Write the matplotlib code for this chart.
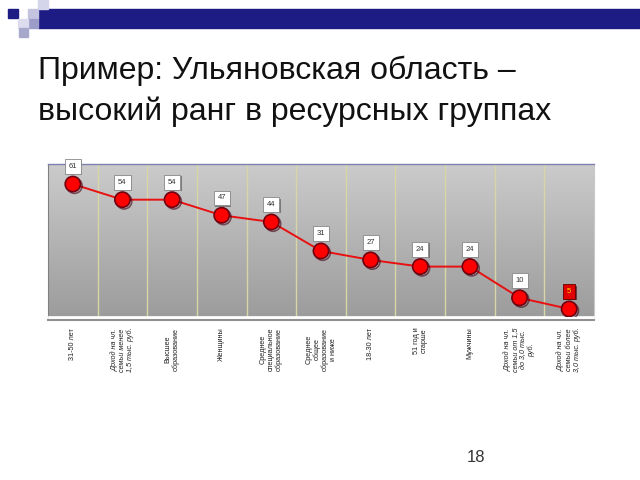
import matplotlib
matplotlib.use("Agg")
import matplotlib.pyplot as plt
import matplotlib.patheffects as pe
from matplotlib.patches import Rectangle
import numpy as np

plt.rcParams['font.family'] = ['Liberation Sans', 'DejaVu Sans']

categories = [
    "31-50 лет",
    "Доход на чл.\nсемьи менее\n1,5 тыс. руб.",
    "Высшее\nобразование",
    "Женщины",
    "Среднее\nспециальное\nобразование",
    "Среднее\nобщее\nобразование\nи ниже",
    "18-30 лет",
    "51 год и\nстарше",
    "Мужчины",
    "Доход на чл.\nсемьи от 1,5\nдо 3,0 тыс.\nруб.",
    "Доход на чл.\nсемьи более\n3,0 тыс. руб.",
]
values = [61, 54, 54, 47, 44, 31, 27, 24, 24, 10, 5]
title_lines = ["Пример: Ульяновская область –", "высокий ранг в ресурсных группах"]
page_number = "18"

fig = plt.figure(figsize=(6.4, 4.8), dpi=100)
W, H = 640, 480

def px_rect(x0, y0, x1, y1, color):
    fig.patches.append(Rectangle((x0 / W, 1 - y1 / H), (x1 - x0) / W, (y1 - y0) / H,
                                 transform=fig.transFigure, color=color, zorder=0))

# slide decoration
px_rect(38, 9, 640, 28, '#1c1c84')
px_rect(8, 9, 18, 18, '#1c1c84')
px_rect(38, 0, 48, 9, '#d4d4ea')
px_rect(28, 9, 38, 19, '#c4c4e0')
px_rect(28, 19, 38, 28, '#9c9cc8')
px_rect(18, 19, 28, 28, '#dcdcee')
px_rect(19, 28, 28, 37, '#a8a8cc')

for line, base in zip(title_lines, [79, 120]):
    fig.text(38 / W, 1 - base / H, line, fontsize=23, va='baseline', ha='left',
             color='#111111')
fig.text(476 / W, 1 - 457 / H, page_number, fontsize=12, ha='center', va='center',
         color='#333333')

ax = fig.add_axes([48 / W, 1 - 317 / H, 546 / W, 153 / H])
x = np.arange(len(values))
ax.set_xlim(-0.5, len(values) - 0.5)
ax.set_ylim(1.4, 70)

# gradient background (light at top, darker at bottom)
grad = np.linspace(0, 1, 256).reshape(-1, 1)
cmap = matplotlib.colors.LinearSegmentedColormap.from_list('g', ['#cbcbcb', '#9c9c9c'])
ax.imshow(grad, aspect='auto', cmap=cmap, extent=[0, 1, 0, 1],
          transform=ax.transAxes, zorder=0)

for b in np.arange(0.5, len(values) - 0.5, 1.0):
    ax.axvline(b, color='#d6d6a6', lw=1, zorder=1)

ax.plot(x, values, color='#e81010', lw=1.4, zorder=2)
ax.plot(x, values, 'o', ms=11, mfc='#ff0000', mec='#700010', mew=1.2, zorder=3,
        path_effects=[pe.SimpleLineShadow(offset=(1.2, -1.2), shadow_color='#400010', alpha=0.6),
                      pe.Normal()])

for i, v in enumerate(values):
    last = (i == len(values) - 1)
    ax.annotate(str(v), (i, v), xytext=(0, 12.5), textcoords='offset points',
                ha='center', va='center', fontsize=5.5,
                color='#ffe000' if last else '#333333', zorder=5,
                bbox=dict(boxstyle='square,pad=0.5', fc='#e00000' if last else 'white',
                          ec='#600000' if last else '#888888', lw=0.6,
                          path_effects=[pe.SimplePatchShadow(offset=(1, -1), alpha=0.6),
                                        pe.Normal()]))

ax.set_xticks([])
ax.set_yticks([])
ax.spines['top'].set_color('#8080b0')
ax.spines['top'].set_linewidth(1)
ax.spines['left'].set_color('#808080')
ax.spines['right'].set_color('#c8c8c8')
ax.spines['bottom'].set_color('white')
ax.spines['bottom'].set_linewidth(1.2)
ax.plot([0, 1], [-0.02, -0.02], transform=ax.transAxes, color='#909090', lw=1.5,
        clip_on=False)

for i, lab in enumerate(categories):
    ax.text(i, -0.07, lab, transform=ax.get_xaxis_transform(), rotation=90,
            ha='center', va='top', multialignment='center', fontsize=5.2,
            linespacing=1.15, color='#222222',
            style='italic' if lab.startswith('Доход') else 'normal')

fig.savefig('out.png', dpi=100)
